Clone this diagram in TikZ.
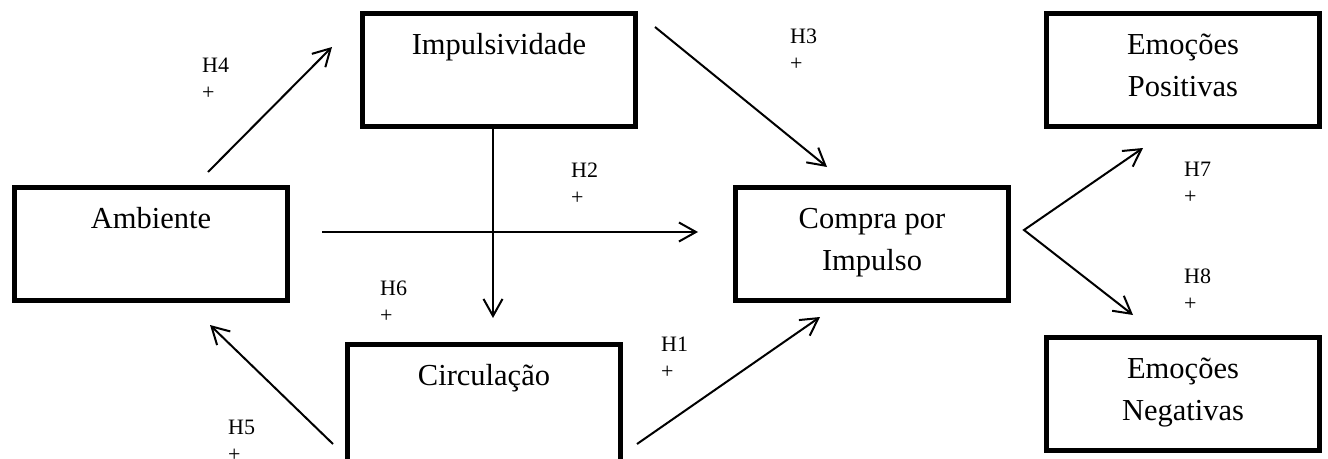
\documentclass[tikz,border=0pt]{standalone}
\usepackage{fontspec}
\setmainfont{Liberation Serif}
\usetikzlibrary{calc,positioning,arrows.meta}
\tikzset{
box/.style={draw,line width=5pt,minimum width=273pt,minimum height=113pt,inner sep=0pt},
txt/.style={font=\fontsize{30.5}{42}\selectfont,align=center,inner sep=0pt},
hyp/.style={font=\fontsize{22}{27}\selectfont,align=left,inner sep=0pt,anchor=north west},
arr/.style={line width=2pt,-{Straight Barb[length=17pt,width=19pt]}}
}
\begin{document}
\begin{tikzpicture}[x=1pt,y=-1pt]
\useasboundingbox (0,0) rectangle (1328,458);
\node[box] (imp) at (499,70) {};
\node[box] (amb) at (151,244) {};
\node[box,minimum height=125pt] (circ) at (484,407) {};
\node[box] (cmp) at (872,244) {};
\node[box] (pos) at (1183,70) {};
\node[box] (neg) at (1183,394) {};
\node[txt,below=13.6pt of imp.north] (impt) {\strut Impulsividade};
\node[txt,below=13.6pt of amb.north] (ambt) {\strut Ambiente};
\node[txt,below=13.6pt of circ.north] (circt) {\strut Circulação};
\node[txt,below=13.6pt of cmp.north] (cmpt) {\strut Compra por\\Impulso};
\node[txt,below=13.6pt of pos.north] (post) {\strut Emoções\\Positivas};
\node[txt,below=13.6pt of neg.north] (negt) {\strut Emoções\\Negativas};
\draw[arr] ($(amb.north)+(57,-13)$) -- ($(imp.west)+(-28,-23)$);
\draw[arr] ($(amb.east)+(32,-12)$) -- ($(cmp.west)+(-35,-12)$);
\draw[arr] ($(imp.south)+(-6,0)$) -- ($(circ.north)+(9,-24)$);
\draw[arr] ($(imp.east)+(17,-43)$) -- ($(cmp.north)+(-45,-18)$);
\draw[arr] ($(circ.north east)+(14,102)$) -- ($(cmp.south)+(-52,14)$);
\draw[arr] ($(circ.north west)+(-12,102)$) -- ($(amb.south)+(59,22)$);
\draw[line width=2pt,{Straight Barb[length=17pt,width=19pt]}-{Straight Barb[length=17pt,width=19pt]}] ($(pos.south)+(-40,19)$) -- ($(cmp.east)+(13,-14)$) -- ($(neg.north)+(-50,-20)$);
\node[hyp] (h4) at (202,53) {\strut H4\\+};
\node[hyp] (h3) at (790,24) {\strut H3\\+};
\node[hyp] (h2) at (571,158) {\strut H2\\+};
\node[hyp] (h6) at (380,276) {\strut H6\\+};
\node[hyp] (h1) at (661,332) {\strut H1\\+};
\node[hyp] (h5) at (228,415) {\strut H5\\+};
\node[hyp] (h7) at (1184,157) {\strut H7\\+};
\node[hyp] (h8) at (1184,264) {\strut H8\\+};
\end{tikzpicture}
\end{document}
